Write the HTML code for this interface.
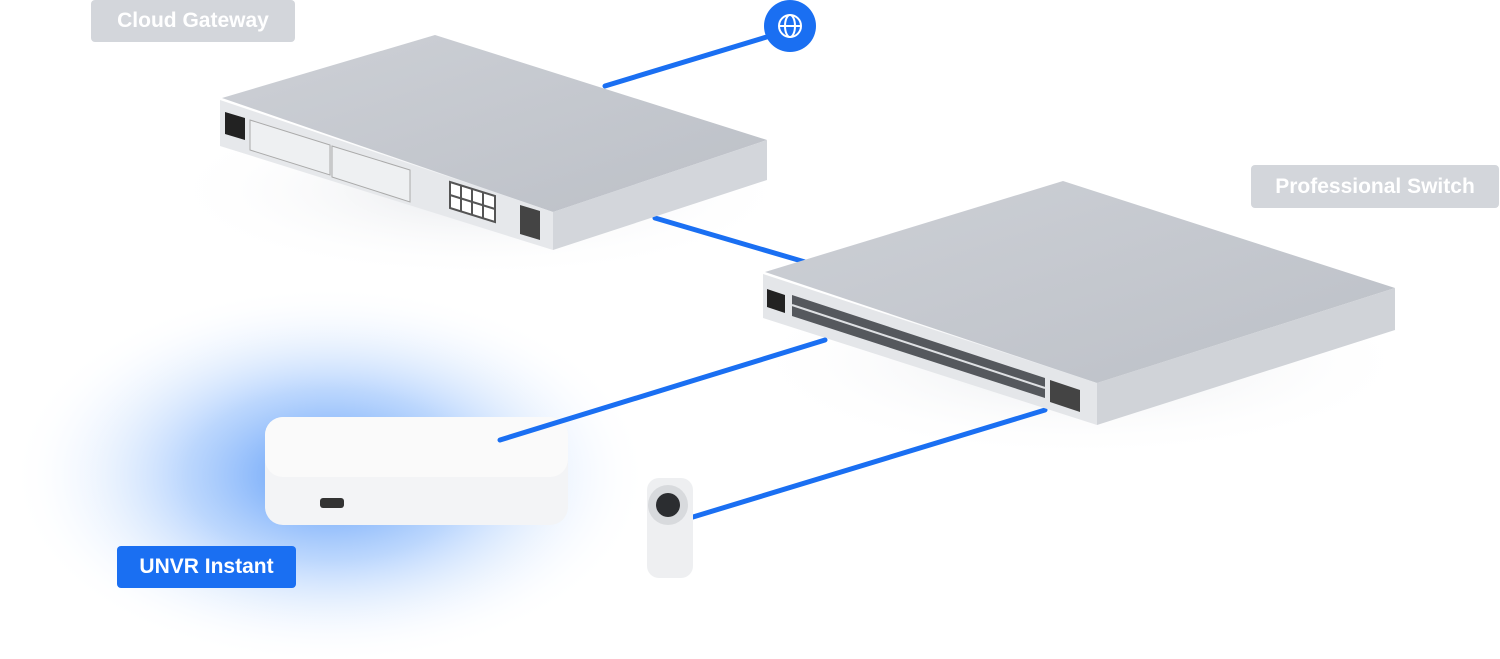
<!DOCTYPE html>
<html><head><meta charset="utf-8"><style>
html,body{margin:0;padding:0;background:#fff;width:1500px;height:659px;overflow:hidden;font-family:"Liberation Sans",sans-serif}
.lbl{position:absolute;border-radius:4px;color:#fff;font-size:21px;font-weight:bold;display:flex;align-items:center;justify-content:center}
</style></head><body>
<svg width="1500" height="659" style="position:absolute;left:0;top:0">
<defs>
<radialGradient id="glow" cx="0.5" cy="0.5" r="0.5">
<stop offset="0" stop-color="#2a7cf5" stop-opacity="0.8"/>
<stop offset="0.45" stop-color="#6aa6fb" stop-opacity="0.45"/>
<stop offset="1" stop-color="#ffffff" stop-opacity="0"/>
</radialGradient>
<linearGradient id="top" x1="0" y1="0" x2="1" y2="1"><stop offset="0" stop-color="#cdd0d6"/><stop offset="1" stop-color="#bcc0c7"/></linearGradient>
<radialGradient id="sh" cx="0.5" cy="0.5" r="0.5"><stop offset="0" stop-color="#e6e8ec"/><stop offset="1" stop-color="#fff" stop-opacity="0"/></radialGradient>
</defs>
<ellipse cx="330" cy="475" rx="320" ry="190" fill="url(#glow)"/>
<ellipse cx="480" cy="190" rx="320" ry="90" fill="url(#sh)"/>
<ellipse cx="1080" cy="360" rx="340" ry="100" fill="url(#sh)"/>
<g stroke="#1a6ff2" stroke-width="5" stroke-linecap="round">
<line x1="605" y1="86" x2="770" y2="36"/>
<line x1="655" y1="218" x2="805" y2="262"/>
<line x1="693" y1="517" x2="1045" y2="410"/>
</g>
<circle cx="790" cy="26" r="26" fill="#1a6ff2"/>
<circle cx="790" cy="26" r="11" fill="none" stroke="#fff" stroke-width="2"/>
<ellipse cx="790" cy="26" rx="5" ry="11" fill="none" stroke="#fff" stroke-width="2"/>
<line x1="779" y1="26" x2="801" y2="26" stroke="#fff" stroke-width="2"/>
<!-- gateway -->
<polygon points="222,98 435,35 767,140 553,212" fill="url(#top)"/>
<polygon points="220,100 553,212 553,250 220,146" fill="#e6e8eb"/>
<polygon points="553,212 767,140 767,180 553,250" fill="#d3d6db"/>
<polygon points="225,112 245,118 245,140 225,134" fill="#222"/>
<polygon points="250,120 330,145 330,175 250,150" fill="#eef0f2" stroke="#aaa"/>
<polygon points="332,146 410,170 410,202 332,177" fill="#eef0f2" stroke="#aaa"/>
<polygon points="450,182 495,196 495,222 450,208" fill="#fff" stroke="#555" stroke-width="2"/>
<line x1="450" y1="195" x2="495" y2="209" stroke="#555" stroke-width="2"/>
<line x1="461" y1="185" x2="461" y2="212" stroke="#555" stroke-width="2"/>
<line x1="472" y1="189" x2="472" y2="215" stroke="#555" stroke-width="2"/>
<line x1="483" y1="192" x2="483" y2="218" stroke="#555" stroke-width="2"/>
<polygon points="520,205 540,211 540,240 520,234" fill="#444"/>
<!-- switch -->
<polygon points="765,272 1063,181 1395,288 1097,383" fill="url(#top)"/>
<polygon points="763,274 1097,383 1097,425 763,318" fill="#e4e6e9"/>
<polygon points="1097,383 1395,288 1395,330 1097,425" fill="#d0d3d8"/>
<polygon points="767,289 785,295 785,313 767,307" fill="#222"/>
<polygon points="792,295 1045,378 1045,398 792,316" fill="#55585d"/>
<line x1="792" y1="305" x2="1045" y2="388" stroke="#dfe1e4" stroke-width="2"/>
<polygon points="1050,380 1080,390 1080,412 1050,402" fill="#444"/>
<!-- UNVR -->
<rect x="265" y="417" width="303" height="108" rx="18" fill="#f3f4f6"/>
<rect x="265" y="417" width="303" height="60" rx="18" fill="#fafafa"/>
<rect x="320" y="498" width="24" height="10" rx="3" fill="#333"/>
<line x1="500" y1="440" x2="825" y2="340" stroke="#1a6ff2" stroke-width="5" stroke-linecap="round"/>
<!-- camera -->
<rect x="647" y="478" width="46" height="100" rx="12" fill="#eeeff1"/>
<circle cx="668" cy="505" r="20" fill="#d8dadd"/>
<circle cx="668" cy="505" r="12" fill="#2b2d30"/>
</svg>
<div class="lbl" style="left:91px;top:0;width:204px;height:42px;background:#d3d6db">Cloud Gateway</div>
<div class="lbl" style="left:1251px;top:165px;width:248px;height:43px;background:#d3d6db">Professional Switch</div>
<div class="lbl" style="left:117px;top:546px;width:179px;height:42px;background:#1a6ff2">UNVR Instant</div>
</body></html>
